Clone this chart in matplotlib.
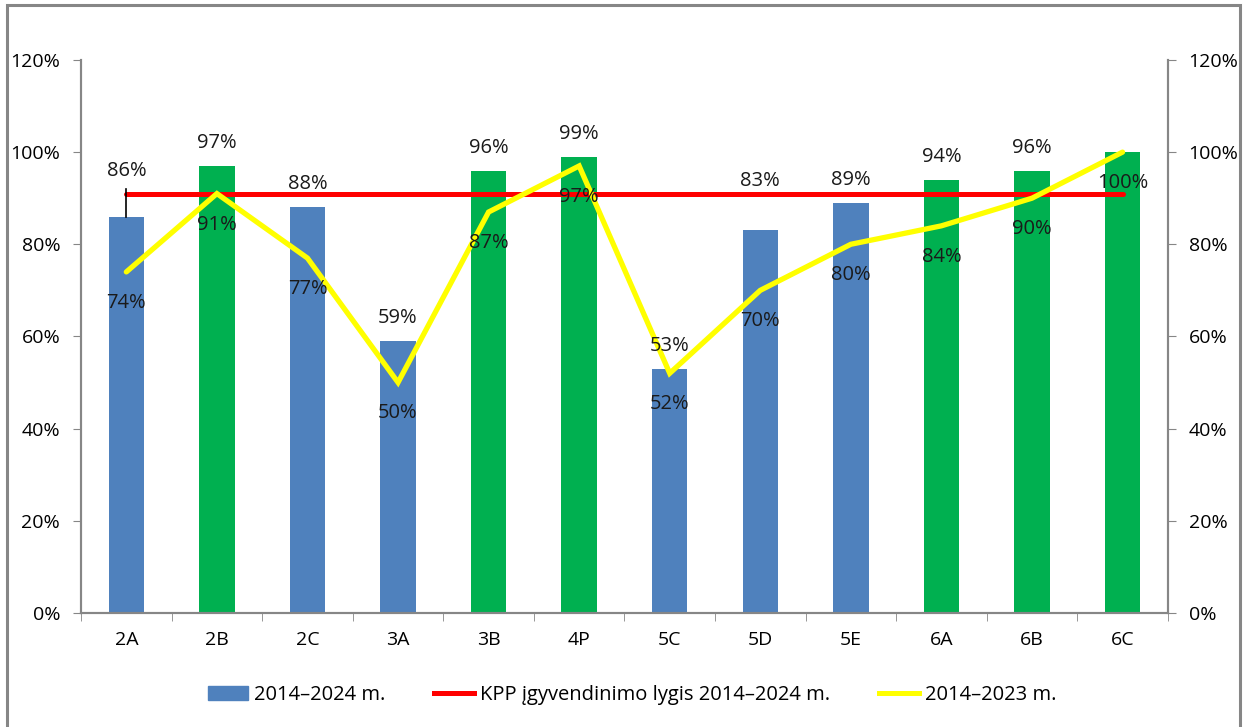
import matplotlib.pyplot as plt
from matplotlib.lines import Line2D
from matplotlib.patches import Patch, Rectangle
from matplotlib.ticker import PercentFormatter, FixedLocator

plt.rcParams['font.family'] = ['Open Sans', 'DejaVu Sans']

# Duomenys
klases = ['2A', '2B', '2C', '3A', '3B', '4P', '5C', '5D', '5E', '6A', '6B', '6C']
rez_2014_2024 = [86, 97, 88, 59, 96, 99, 53, 83, 89, 94, 96, 100]
rez_2014_2023 = [74, 91, 77, 50, 87, 97, 52, 70, 80, 84, 90, 100]
kpp_lygis = 91

melyna = '#4F81BD'
zalia = '#00B050'
pilka = '#868686'

fig = plt.figure(figsize=(12.47, 7.27), dpi=100)
ax = fig.add_axes([0.065, 0.157, 0.8715, 0.7605])

x = list(range(len(klases)))
spalvos = [zalia if v > kpp_lygis else melyna for v in rez_2014_2024]
ax.bar(x, rez_2014_2024, width=0.39, color=spalvos, zorder=2)
ax.plot([x[0], x[-1]], [kpp_lygis, kpp_lygis], color='#FF0000', lw=3.6,
        solid_capstyle='round', zorder=3)
ax.plot(x, rez_2014_2023, color='#FFFF00', lw=3.8, solid_capstyle='round',
        solid_joinstyle='miter', zorder=4)

# stulpeliu etiketes (kai kurios perkeltos, kaip originale)
perkelta = {0: 46, 7: 49}
for i, v in enumerate(rez_2014_2024):
    if i == len(x) - 1:
        continue  # 6C etikete uzdengta
    dy = perkelta.get(i, 23)
    ax.annotate(f'{v}%', (i, v), xytext=(0, dy / 1.389), textcoords='offset points',
                ha='center', va='center', fontsize=14.5, color='#1a1a1a', zorder=5)
# Excel "leader line" prie 2A
ax.plot([0, 0], [rez_2014_2024[0], 92], color='black', lw=1.2, zorder=5)

for i, v in enumerate(rez_2014_2023):
    ax.annotate(f'{v}%', (i, v), xytext=(0, -31 / 1.389), textcoords='offset points',
                ha='center', va='center', fontsize=14.5, color='#1a1a1a', zorder=5)

ax.set_xlim(-0.5, len(x) - 0.5)
ax.set_ylim(0, 120)
ax.set_yticks(range(0, 121, 20))
ax.yaxis.set_major_formatter(PercentFormatter(decimals=0))
ax.set_xticks(x)
ax.set_xticklabels(klases)
ax.xaxis.set_minor_locator(FixedLocator([i + 0.5 for i in range(-1, len(x))]))
ax.tick_params(axis='x', which='major', length=0, pad=13, labelsize=14)
ax.tick_params(axis='x', which='minor', length=6, color=pilka, direction='out')
ax.tick_params(axis='y', length=6, color=pilka, labelsize=14, pad=9)

ax2 = ax.twinx()
ax2.set_ylim(0, 120)
ax2.set_yticks(range(0, 121, 20))
ax2.yaxis.set_major_formatter(PercentFormatter(decimals=0))
ax2.tick_params(axis='y', length=6, color=pilka, labelsize=14, pad=9)

for a in (ax, ax2):
    a.spines['top'].set_visible(False)
    for s in ('left', 'right', 'bottom'):
        a.spines[s].set_color(pilka)
        a.spines[s].set_linewidth(1.5)

rankenos = [Patch(color=melyna), Line2D([], [], color='#FF0000', lw=3.6),
            Line2D([], [], color='#FFFF00', lw=3.6)]
pavad = ['2014–2024 m.', 'KPP įgyvendinimo lygis 2014–2024 m.', '2014–2023 m.']
fig.legend(rankenos, pavad, loc='center', bbox_to_anchor=(0.507, 0.044), ncol=3,
           frameon=False, fontsize=14.5, handlelength=2.0, columnspacing=2.4,
           handletextpad=0.3)

# remelis aplink diagrama
fig.patches.append(Rectangle((7 / 1247, -0.01), 1233 / 1247, 1 - 5 / 727 + 0.01,
                             transform=fig.transFigure, fill=False,
                             edgecolor=pilka, lw=2.2))

fig.savefig('out.png', dpi=100)
